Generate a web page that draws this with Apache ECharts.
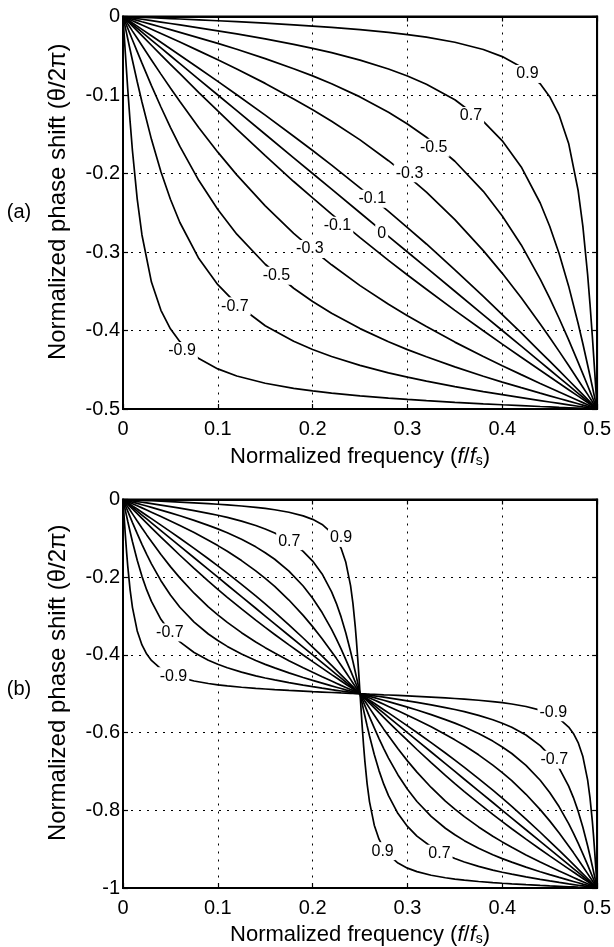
<!DOCTYPE html>
<html>
<head>
<meta charset="utf-8">
<title>Allpass phase response</title>
<script src="https://cdn.jsdelivr.net/npm/echarts/dist/echarts.min.js"></script>
<style>
  html, body { margin: 0; padding: 0; background: #fff; }
  #chart { width: 614px; height: 947px; }
</style>
</head>
<body>
<div id="chart"></div>
<script>
// ---------- panel (a): first-order allpass, phase vs. frequency ----------
const freqA = [0, 0.0025, 0.005, 0.0075, 0.01, 0.015, 0.02, 0.03, 0.04, 0.05, 0.06, 0.08, 0.1, 0.12, 0.15, 0.18, 0.2, 0.22, 0.25, 0.28, 0.3, 0.32, 0.35, 0.38, 0.4, 0.42, 0.44, 0.45, 0.46, 0.47, 0.48, 0.485, 0.49, 0.4925, 0.495, 0.4975, 0.5];

const phaseA_p09 = [0, -0.0001, -0.0003, -0.0004, -0.0005, -0.0008, -0.0011, -0.0016, -0.0021, -0.0027, -0.0032, -0.0043, -0.0054, -0.0066, -0.0085, -0.0106, -0.0122, -0.0139, -0.0167, -0.0202, -0.0230, -0.0263, -0.0328, -0.0421, -0.0511, -0.0643, -0.0857, -0.1021, -0.1257, -0.1617, -0.2217, -0.2674, -0.3287, -0.3660, -0.4077, -0.4528, -0.5];
const phaseA_p07 = [0, -0.0004, -0.0009, -0.0013, -0.0018, -0.0026, -0.0035, -0.0053, -0.0071, -0.0089, -0.0107, -0.0144, -0.0182, -0.0222, -0.0285, -0.0356, -0.0406, -0.0461, -0.0556, -0.0669, -0.0758, -0.0862, -0.1061, -0.1335, -0.1584, -0.1916, -0.2376, -0.2672, -0.3022, -0.3435, -0.3911, -0.4169, -0.4439, -0.4577, -0.4717, -0.4858, -0.5];
const phaseA_p05 = [0, -0.0008, -0.0017, -0.0025, -0.0033, -0.0050, -0.0067, -0.0100, -0.0134, -0.0168, -0.0202, -0.0272, -0.0343, -0.0418, -0.0536, -0.0665, -0.0756, -0.0857, -0.1024, -0.1219, -0.1369, -0.1538, -0.1844, -0.2227, -0.2541, -0.2910, -0.3345, -0.3588, -0.3847, -0.4120, -0.4406, -0.4553, -0.4701, -0.4775, -0.4850, -0.4925, -0.5];
const phaseA_p03 = [0, -0.0013, -0.0027, -0.0040, -0.0054, -0.0081, -0.0108, -0.0162, -0.0216, -0.0271, -0.0326, -0.0438, -0.0551, -0.0669, -0.0852, -0.1050, -0.1187, -0.1334, -0.1572, -0.1837, -0.2030, -0.2237, -0.2588, -0.2982, -0.3272, -0.3583, -0.3918, -0.4089, -0.4266, -0.4447, -0.4630, -0.4722, -0.4814, -0.4861, -0.4907, -0.4954, -0.5];
const phaseA_p01 = [0, -0.0020, -0.0041, -0.0061, -0.0082, -0.0123, -0.0164, -0.0246, -0.0328, -0.0410, -0.0493, -0.0660, -0.0827, -0.0997, -0.1257, -0.1526, -0.1707, -0.1894, -0.2183, -0.2482, -0.2689, -0.2898, -0.3227, -0.3565, -0.3797, -0.4031, -0.4271, -0.4391, -0.4512, -0.4634, -0.4756, -0.4817, -0.4878, -0.4908, -0.4939, -0.4969, -0.5];
const phaseA_0 = [0, -0.0025, -0.005, -0.0075, -0.01, -0.015, -0.02, -0.03, -0.04, -0.05, -0.06, -0.08, -0.1, -0.12, -0.15, -0.18, -0.2, -0.22, -0.25, -0.28, -0.3, -0.32, -0.35, -0.38, -0.4, -0.42, -0.44, -0.45, -0.46, -0.47, -0.48, -0.485, -0.49, -0.4925, -0.495, -0.4975, -0.5];
const phaseA_m01 = [0, -0.0031, -0.0061, -0.0092, -0.0122, -0.0183, -0.0244, -0.0366, -0.0488, -0.0609, -0.0729, -0.0969, -0.1203, -0.1435, -0.1773, -0.2102, -0.2311, -0.2518, -0.2817, -0.3106, -0.3293, -0.3474, -0.3743, -0.4003, -0.4173, -0.4340, -0.4507, -0.4590, -0.4672, -0.4754, -0.4836, -0.4877, -0.4918, -0.4939, -0.4959, -0.4980, -0.5];
const phaseA_m03 = [0, -0.0046, -0.0093, -0.0139, -0.0186, -0.0278, -0.0370, -0.0553, -0.0734, -0.0911, -0.1082, -0.1417, -0.1728, -0.2018, -0.2412, -0.2763, -0.2970, -0.3163, -0.3428, -0.3666, -0.3813, -0.3950, -0.4148, -0.4331, -0.4449, -0.4562, -0.4674, -0.4729, -0.4784, -0.4838, -0.4892, -0.4919, -0.4946, -0.4960, -0.4973, -0.4987, -0.5];
const phaseA_m05 = [0, -0.0075, -0.0150, -0.0225, -0.0299, -0.0447, -0.0594, -0.0880, -0.1153, -0.1412, -0.1655, -0.2090, -0.2459, -0.2773, -0.3156, -0.3462, -0.3631, -0.3781, -0.3976, -0.4143, -0.4244, -0.4335, -0.4464, -0.4582, -0.4657, -0.4728, -0.4798, -0.4832, -0.4866, -0.4900, -0.4933, -0.4950, -0.4967, -0.4975, -0.4983, -0.4992, -0.5];
const phaseA_m07 = [0, -0.0142, -0.0283, -0.0423, -0.0561, -0.0831, -0.1089, -0.1565, -0.1978, -0.2328, -0.2624, -0.3084, -0.3416, -0.3665, -0.3939, -0.4138, -0.4242, -0.4331, -0.4444, -0.4539, -0.4594, -0.4644, -0.4715, -0.4778, -0.4818, -0.4856, -0.4893, -0.4911, -0.4929, -0.4947, -0.4965, -0.4974, -0.4982, -0.4987, -0.4991, -0.4996, -0.5];
const phaseA_m09 = [0, -0.0472, -0.0923, -0.1340, -0.1713, -0.2326, -0.2783, -0.3383, -0.3743, -0.3979, -0.4143, -0.4357, -0.4489, -0.4579, -0.4672, -0.4737, -0.4770, -0.4798, -0.4833, -0.4861, -0.4878, -0.4894, -0.4915, -0.4934, -0.4946, -0.4957, -0.4968, -0.4973, -0.4979, -0.4984, -0.4989, -0.4992, -0.4995, -0.4996, -0.4997, -0.4999, -0.5];

// inline curve labels of panel (a)
const labelTextA  = ['0.9', '0.7', '-0.5', '-0.3', '-0.1', '0', '-0.1', '-0.3', '-0.5', '-0.7', '-0.9'];
const labelFreqA  = [0.4265, 0.367, 0.3277, 0.3022, 0.2629, 0.2728, 0.2262, 0.1971, 0.1618, 0.118, 0.0623];
const labelPhaseA = [-0.0732, -0.1268, -0.1671, -0.1998, -0.2321, -0.2762, -0.2665, -0.2962, -0.3302, -0.3692, -0.4261];

// ---------- panel (b): second-order section, phase vs. frequency ----------
const freqB = [0, 0.00125, 0.0025, 0.00375, 0.005, 0.0075, 0.01, 0.015, 0.02, 0.025, 0.03, 0.04, 0.05, 0.06, 0.075, 0.09, 0.1, 0.11, 0.125, 0.14, 0.15, 0.16, 0.175, 0.19, 0.2, 0.21, 0.22, 0.225, 0.23, 0.235, 0.24, 0.2425, 0.245, 0.24625, 0.2475, 0.24875, 0.25,
  0.25125, 0.2525, 0.25375, 0.255, 0.2575, 0.26, 0.265, 0.27, 0.275, 0.28, 0.29, 0.3, 0.31, 0.325, 0.34, 0.35, 0.36, 0.375, 0.39, 0.4, 0.41, 0.425, 0.44, 0.45, 0.46, 0.47, 0.475, 0.48, 0.485, 0.49, 0.4925, 0.495, 0.49625, 0.4975, 0.49875, 0.5];

const phaseB_p09 = [0, -0.0001, -0.0003, -0.0004, -0.0005, -0.0008, -0.0011, -0.0016, -0.0021, -0.0027, -0.0032, -0.0043, -0.0054, -0.0066, -0.0085, -0.0106, -0.0122, -0.0139, -0.0167, -0.0202, -0.0230, -0.0263, -0.0328, -0.0421, -0.0511, -0.0643, -0.0857, -0.1021, -0.1257, -0.1617, -0.2217, -0.2674, -0.3287, -0.3660, -0.4077, -0.4528, -0.5,
  -0.5472, -0.5923, -0.6340, -0.6713, -0.7326, -0.7783, -0.8383, -0.8743, -0.8979, -0.9143, -0.9357, -0.9489, -0.9579, -0.9672, -0.9737, -0.9770, -0.9798, -0.9833, -0.9861, -0.9878, -0.9894, -0.9915, -0.9934, -0.9946, -0.9957, -0.9968, -0.9973, -0.9979, -0.9984, -0.9989, -0.9992, -0.9995, -0.9996, -0.9997, -0.9999, -1];
const phaseB_p07 = [0, -0.0004, -0.0009, -0.0013, -0.0018, -0.0026, -0.0035, -0.0053, -0.0071, -0.0089, -0.0107, -0.0144, -0.0182, -0.0222, -0.0285, -0.0356, -0.0406, -0.0461, -0.0556, -0.0669, -0.0758, -0.0862, -0.1061, -0.1335, -0.1584, -0.1916, -0.2376, -0.2672, -0.3022, -0.3435, -0.3911, -0.4169, -0.4439, -0.4577, -0.4717, -0.4858, -0.5,
  -0.5142, -0.5283, -0.5423, -0.5561, -0.5831, -0.6089, -0.6565, -0.6978, -0.7328, -0.7624, -0.8084, -0.8416, -0.8665, -0.8939, -0.9138, -0.9242, -0.9331, -0.9444, -0.9539, -0.9594, -0.9644, -0.9715, -0.9778, -0.9818, -0.9856, -0.9893, -0.9911, -0.9929, -0.9947, -0.9965, -0.9974, -0.9982, -0.9987, -0.9991, -0.9996, -1];
const phaseB_p05 = [0, -0.0008, -0.0017, -0.0025, -0.0033, -0.0050, -0.0067, -0.0100, -0.0134, -0.0168, -0.0202, -0.0272, -0.0343, -0.0418, -0.0536, -0.0665, -0.0756, -0.0857, -0.1024, -0.1219, -0.1369, -0.1538, -0.1844, -0.2227, -0.2541, -0.2910, -0.3345, -0.3588, -0.3847, -0.4120, -0.4406, -0.4553, -0.4701, -0.4775, -0.4850, -0.4925, -0.5,
  -0.5075, -0.5150, -0.5225, -0.5299, -0.5447, -0.5594, -0.5880, -0.6153, -0.6412, -0.6655, -0.7090, -0.7459, -0.7773, -0.8156, -0.8462, -0.8631, -0.8781, -0.8976, -0.9143, -0.9244, -0.9335, -0.9464, -0.9582, -0.9657, -0.9728, -0.9798, -0.9832, -0.9866, -0.9900, -0.9933, -0.9950, -0.9967, -0.9975, -0.9983, -0.9992, -1];
const phaseB_p03 = [0, -0.0013, -0.0027, -0.0040, -0.0054, -0.0081, -0.0108, -0.0162, -0.0216, -0.0271, -0.0326, -0.0438, -0.0551, -0.0669, -0.0852, -0.1050, -0.1187, -0.1334, -0.1572, -0.1837, -0.2030, -0.2237, -0.2588, -0.2982, -0.3272, -0.3583, -0.3918, -0.4089, -0.4266, -0.4447, -0.4630, -0.4722, -0.4814, -0.4861, -0.4907, -0.4954, -0.5,
  -0.5046, -0.5093, -0.5139, -0.5186, -0.5278, -0.5370, -0.5553, -0.5734, -0.5911, -0.6082, -0.6417, -0.6728, -0.7018, -0.7412, -0.7763, -0.7970, -0.8163, -0.8428, -0.8666, -0.8813, -0.8950, -0.9148, -0.9331, -0.9449, -0.9562, -0.9674, -0.9729, -0.9784, -0.9838, -0.9892, -0.9919, -0.9946, -0.9960, -0.9973, -0.9987, -1];
const phaseB_p01 = [0, -0.0020, -0.0041, -0.0061, -0.0082, -0.0123, -0.0164, -0.0246, -0.0328, -0.0410, -0.0493, -0.0660, -0.0827, -0.0997, -0.1257, -0.1526, -0.1707, -0.1894, -0.2183, -0.2482, -0.2689, -0.2898, -0.3227, -0.3565, -0.3797, -0.4031, -0.4271, -0.4391, -0.4512, -0.4634, -0.4756, -0.4817, -0.4878, -0.4908, -0.4939, -0.4969, -0.5,
  -0.5031, -0.5061, -0.5092, -0.5122, -0.5183, -0.5244, -0.5366, -0.5488, -0.5609, -0.5729, -0.5969, -0.6203, -0.6435, -0.6773, -0.7102, -0.7311, -0.7518, -0.7817, -0.8106, -0.8293, -0.8474, -0.8743, -0.9003, -0.9173, -0.9340, -0.9507, -0.9590, -0.9672, -0.9754, -0.9836, -0.9877, -0.9918, -0.9939, -0.9959, -0.9980, -1];
const phaseB_0 = [0, -0.0025, -0.005, -0.0075, -0.01, -0.015, -0.02, -0.03, -0.04, -0.05, -0.06, -0.08, -0.1, -0.12, -0.15, -0.18, -0.2, -0.22, -0.25, -0.28, -0.3, -0.32, -0.35, -0.38, -0.4, -0.42, -0.44, -0.45, -0.46, -0.47, -0.48, -0.485, -0.49, -0.4925, -0.495, -0.4975, -0.5,
  -0.5025, -0.505, -0.5075, -0.51, -0.515, -0.52, -0.53, -0.54, -0.55, -0.56, -0.58, -0.6, -0.62, -0.65, -0.68, -0.7, -0.72, -0.75, -0.78, -0.8, -0.82, -0.85, -0.88, -0.9, -0.92, -0.94, -0.95, -0.96, -0.97, -0.98, -0.985, -0.99, -0.9925, -0.995, -0.9975, -1];
const phaseB_m01 = [0, -0.0031, -0.0061, -0.0092, -0.0122, -0.0183, -0.0244, -0.0366, -0.0488, -0.0609, -0.0729, -0.0969, -0.1203, -0.1435, -0.1773, -0.2102, -0.2311, -0.2518, -0.2817, -0.3106, -0.3293, -0.3474, -0.3743, -0.4003, -0.4173, -0.4340, -0.4507, -0.4590, -0.4672, -0.4754, -0.4836, -0.4877, -0.4918, -0.4939, -0.4959, -0.4980, -0.5,
  -0.5020, -0.5041, -0.5061, -0.5082, -0.5123, -0.5164, -0.5246, -0.5328, -0.5410, -0.5493, -0.5660, -0.5827, -0.5997, -0.6257, -0.6526, -0.6707, -0.6894, -0.7183, -0.7482, -0.7689, -0.7898, -0.8227, -0.8565, -0.8797, -0.9031, -0.9271, -0.9391, -0.9512, -0.9634, -0.9756, -0.9817, -0.9878, -0.9908, -0.9939, -0.9969, -1];
const phaseB_m03 = [0, -0.0046, -0.0093, -0.0139, -0.0186, -0.0278, -0.0370, -0.0553, -0.0734, -0.0911, -0.1082, -0.1417, -0.1728, -0.2018, -0.2412, -0.2763, -0.2970, -0.3163, -0.3428, -0.3666, -0.3813, -0.3950, -0.4148, -0.4331, -0.4449, -0.4562, -0.4674, -0.4729, -0.4784, -0.4838, -0.4892, -0.4919, -0.4946, -0.4960, -0.4973, -0.4987, -0.5,
  -0.5013, -0.5027, -0.5040, -0.5054, -0.5081, -0.5108, -0.5162, -0.5216, -0.5271, -0.5326, -0.5438, -0.5551, -0.5669, -0.5852, -0.6050, -0.6187, -0.6334, -0.6572, -0.6837, -0.7030, -0.7237, -0.7588, -0.7982, -0.8272, -0.8583, -0.8918, -0.9089, -0.9266, -0.9447, -0.9630, -0.9722, -0.9814, -0.9861, -0.9907, -0.9954, -1];
const phaseB_m05 = [0, -0.0075, -0.0150, -0.0225, -0.0299, -0.0447, -0.0594, -0.0880, -0.1153, -0.1412, -0.1655, -0.2090, -0.2459, -0.2773, -0.3156, -0.3462, -0.3631, -0.3781, -0.3976, -0.4143, -0.4244, -0.4335, -0.4464, -0.4582, -0.4657, -0.4728, -0.4798, -0.4832, -0.4866, -0.4900, -0.4933, -0.4950, -0.4967, -0.4975, -0.4983, -0.4992, -0.5,
  -0.5008, -0.5017, -0.5025, -0.5033, -0.5050, -0.5067, -0.5100, -0.5134, -0.5168, -0.5202, -0.5272, -0.5343, -0.5418, -0.5536, -0.5665, -0.5756, -0.5857, -0.6024, -0.6219, -0.6369, -0.6538, -0.6844, -0.7227, -0.7541, -0.7910, -0.8345, -0.8588, -0.8847, -0.9120, -0.9406, -0.9553, -0.9701, -0.9775, -0.9850, -0.9925, -1];
const phaseB_m07 = [0, -0.0142, -0.0283, -0.0423, -0.0561, -0.0831, -0.1089, -0.1565, -0.1978, -0.2328, -0.2624, -0.3084, -0.3416, -0.3665, -0.3939, -0.4138, -0.4242, -0.4331, -0.4444, -0.4539, -0.4594, -0.4644, -0.4715, -0.4778, -0.4818, -0.4856, -0.4893, -0.4911, -0.4929, -0.4947, -0.4965, -0.4974, -0.4982, -0.4987, -0.4991, -0.4996, -0.5,
  -0.5004, -0.5009, -0.5013, -0.5018, -0.5026, -0.5035, -0.5053, -0.5071, -0.5089, -0.5107, -0.5144, -0.5182, -0.5222, -0.5285, -0.5356, -0.5406, -0.5461, -0.5556, -0.5669, -0.5758, -0.5862, -0.6061, -0.6335, -0.6584, -0.6916, -0.7376, -0.7672, -0.8022, -0.8435, -0.8911, -0.9169, -0.9439, -0.9577, -0.9717, -0.9858, -1];
const phaseB_m09 = [0, -0.0472, -0.0923, -0.1340, -0.1713, -0.2326, -0.2783, -0.3383, -0.3743, -0.3979, -0.4143, -0.4357, -0.4489, -0.4579, -0.4672, -0.4737, -0.4770, -0.4798, -0.4833, -0.4861, -0.4878, -0.4894, -0.4915, -0.4934, -0.4946, -0.4957, -0.4968, -0.4973, -0.4979, -0.4984, -0.4989, -0.4992, -0.4995, -0.4996, -0.4997, -0.4999, -0.5,
  -0.5001, -0.5003, -0.5004, -0.5005, -0.5008, -0.5011, -0.5016, -0.5021, -0.5027, -0.5032, -0.5043, -0.5054, -0.5066, -0.5085, -0.5106, -0.5122, -0.5139, -0.5167, -0.5202, -0.5230, -0.5263, -0.5328, -0.5421, -0.5511, -0.5643, -0.5857, -0.6021, -0.6257, -0.6617, -0.7217, -0.7674, -0.8287, -0.8660, -0.9077, -0.9528, -1];

// inline curve labels of panel (b)
const labelTextB  = ['0.7', '0.9', '-0.7', '-0.9', '-0.9', '-0.7', '0.9', '0.7'];
const labelFreqB  = [0.1754, 0.2300, 0.0494, 0.0532, 0.4538, 0.4548, 0.2738, 0.3337];
const labelPhaseB = [-0.1073, -0.0989, -0.3421, -0.4549, -0.5474, -0.6696, -0.9051, -0.9118];

// tick labels
const freqTicks   = ['0', '0.1', '0.2', '0.3', '0.4', '0.5'];
const phaseTicksA = ['0', '-0.1', '-0.2', '-0.3', '-0.4', '-0.5'];
const phaseTicksB = ['0', '-0.2', '-0.4', '-0.6', '-0.8', '-1'];

const curvesA = [phaseA_p09, phaseA_p07, phaseA_p05, phaseA_p03, phaseA_p01, phaseA_0,
                 phaseA_m01, phaseA_m03, phaseA_m05, phaseA_m07, phaseA_m09];
const curvesB = [phaseB_p09, phaseB_p07, phaseB_p05, phaseB_p03, phaseB_p01, phaseB_0,
                 phaseB_m01, phaseB_m03, phaseB_m05, phaseB_m07, phaseB_m09];

// ---------- styling ----------
const FONT = "'Liberation Sans', Arial, Helvetica, sans-serif";
const INK = '#000';

const xTitle = '{t|Normalized frequency (}{i|f}{t|/}{i|f}{s|s}{t|)}';
const xTitleStyle = {
  color: INK,
  rich: {
    t: { fontSize: 22, fontFamily: FONT, color: INK },
    i: { fontSize: 22, fontFamily: FONT, fontStyle: 'italic', color: INK },
    s: { fontSize: 14, fontFamily: FONT, color: INK, padding: [9, 0, 0, 0] }
  }
};

function xBottom(gridIndex, nameGap) {
  return {
    type: 'value', gridIndex, min: 0, max: 0.5, interval: 0.1, position: 'bottom',
    axisLine: { show: true, onZero: false, lineStyle: { color: INK, width: 2 } },
    axisTick: { show: true, inside: true, length: 5, lineStyle: { color: INK, width: 1.2 } },
    axisLabel: {
      show: true, margin: 10, fontSize: 20, fontFamily: FONT, color: INK,
      formatter: v => freqTicks[Math.round(v * 10)]
    },
    splitLine: { show: true, lineStyle: { color: INK, width: 1, type: [2, 6] } },
    name: xTitle, nameLocation: 'middle', nameGap, nameTextStyle: xTitleStyle
  };
}
function xTop(gridIndex) {
  return {
    type: 'value', gridIndex, min: 0, max: 0.5, interval: 0.1, position: 'top',
    axisLine: { show: true, onZero: false, lineStyle: { color: INK, width: 2 } },
    axisTick: { show: true, inside: true, length: 5, lineStyle: { color: INK, width: 1.2 } },
    axisLabel: { show: false }, splitLine: { show: false }
  };
}
function yLeft(gridIndex, min, interval, ticks) {
  return {
    type: 'value', gridIndex, min, max: 0, interval, position: 'left',
    axisLine: { show: true, onZero: false, lineStyle: { color: INK, width: 2 } },
    axisTick: { show: true, inside: true, length: 5, lineStyle: { color: INK, width: 1.2 } },
    axisLabel: {
      show: true, margin: 3, fontSize: 20, fontFamily: FONT, color: INK,
      formatter: v => ticks[Math.round(-v / interval)]
    },
    splitLine: { show: true, lineStyle: { color: INK, width: 1, type: [2, 6] } },
    name: 'Normalized phase shift (\u03b8/2\u03c0)', nameLocation: 'middle', nameGap: 53, nameRotate: 90,
    nameTextStyle: { fontSize: 24, fontFamily: FONT, color: INK, padding: [0, 0, 0, 22] }
  };
}
function yRight(gridIndex, min, interval) {
  return {
    type: 'value', gridIndex, min, max: 0, interval, position: 'right',
    axisLine: { show: true, onZero: false, lineStyle: { color: INK, width: 2 } },
    axisTick: { show: true, inside: true, length: 5, lineStyle: { color: INK, width: 1.2 } },
    axisLabel: { show: false }, splitLine: { show: false }
  };
}

function curveSeries(xs, ys, axisIndex) {
  return {
    type: 'line', xAxisIndex: axisIndex, yAxisIndex: axisIndex,
    data: xs.map((x, i) => [x, ys[i]]),
    symbol: 'none', showSymbol: false, silent: true, z: 2,
    lineStyle: { color: INK, width: 1.7 }
  };
}
function labelSeries(texts, xs, ys, axisIndex) {
  return {
    type: 'scatter', xAxisIndex: axisIndex, yAxisIndex: axisIndex,
    symbol: 'circle', symbolSize: 1, silent: true, z: 6,
    itemStyle: { color: '#fff', opacity: 1 },
    data: texts.map((t, i) => ({ name: t, value: [xs[i], ys[i]] })),
    label: {
      show: true, position: 'inside', formatter: '{b}', opacity: 1,
      fontSize: 16, fontFamily: FONT, color: '#000', textBorderWidth: 0,
      backgroundColor: '#fff', padding: [1, 2]
    }
  };
}

const series = [];
curvesA.forEach(c => series.push(curveSeries(freqA, c, 0)));
series.push(labelSeries(labelTextA, labelFreqA, labelPhaseA, 0));
curvesB.forEach(c => series.push(curveSeries(freqB, c, 2)));
series.push(labelSeries(labelTextB, labelFreqB, labelPhaseB, 2));

const option = {
  backgroundColor: '#fff',
  animation: false,
  textStyle: { fontFamily: FONT },
  grid: [
    { left: 123, top: 16.5, width: 476, height: 392.5, show: true, borderColor: INK, borderWidth: 2, backgroundColor: 'transparent' },
    { left: 123, top: 499.5, width: 476, height: 389.5, show: true, borderColor: INK, borderWidth: 2, backgroundColor: 'transparent' }
  ],
  xAxis: [xBottom(0, 36), xTop(0), xBottom(1, 35), xTop(1)],
  yAxis: [yLeft(0, -0.5, 0.1, phaseTicksA), yRight(0, -0.5, 0.1),
          yLeft(1, -1, 0.2, phaseTicksB), yRight(1, -1, 0.2)],
  graphic: [
    { type: 'text', x: 19, y: 212, style: { text: '(a)', fontSize: 20, fontFamily: FONT, fill: INK, align: 'center', verticalAlign: 'middle' } },
    { type: 'text', x: 19, y: 689, style: { text: '(b)', fontSize: 20, fontFamily: FONT, fill: INK, align: 'center', verticalAlign: 'middle' } }
  ],
  series
};

const chart = echarts.init(document.getElementById('chart'), null, { renderer: 'canvas' });
chart.setOption(option);
</script>
</body>
</html>
